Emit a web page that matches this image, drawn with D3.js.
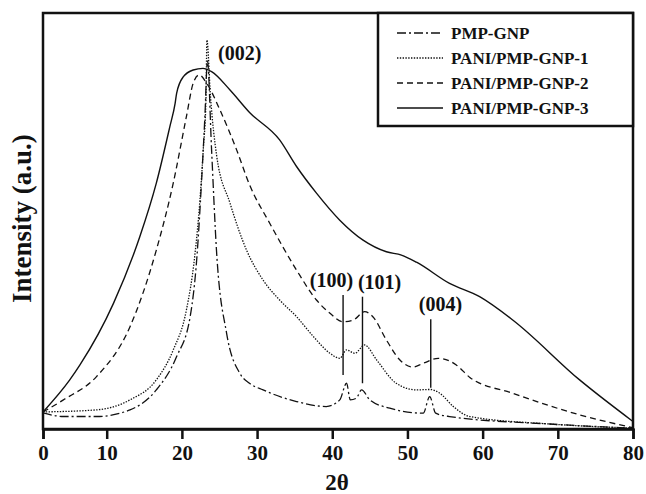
<!DOCTYPE html>
<html>
<head>
<meta charset="utf-8">
<script src="https://cdn.jsdelivr.net/npm/d3@7"></script>
<style>
  body { margin: 0; background: #fff; }
  svg text { font-family: "Liberation Serif", "Times New Roman", serif; font-weight: bold; fill: #111; }
</style>
</head>
<body>
<div id="chart"></div>
<script>
const W = 646, H = 494;
const PLOT = {left: 43, right: 633, top: 13, bottom: 429};

// tick labels on the 2θ axis
const thetaTicks = [0, 10, 20, 30, 40, 50, 60, 70, 80];

// series as [2θ, intensity (a.u., 0-100)]
const seriesNames = ['PMP-GNP', 'PANI/PMP-GNP-1', 'PANI/PMP-GNP-2', 'PANI/PMP-GNP-3'];

const pmpGnp = [
  [0, 3.9], [3.2, 3.0], [8.4, 3.0], [13.1, 4.6], [16.6, 9.4], [19.3, 17.4], [21.1, 27.0],
  [22.0, 41.4], [22.6, 59.0], [23.06, 75.1], [23.4, 88.5], [23.95, 67.1], [24.6, 43.0],
  [25.95, 23.0], [27.7, 13.4], [29.0, 11.0], [30.8, 9.4], [35.25, 6.6], [39.2, 5.4],
  [41.0, 7.0], [41.9, 11.0], [42.4, 7.0], [43.2, 7.4], [43.9, 9.4], [45.0, 7.0],
  [47.65, 5.0], [52.1, 3.8], [52.96, 7.8], [53.76, 3.8], [55.6, 3.0], [68.9, 1.2], [80, 0.2]
];

const paniGnp1 = [
  [0, 4.1], [8.4, 4.6], [13.1, 7.0], [16.6, 11.8], [18.85, 19.0], [20.6, 28.6], [21.7, 41.4],
  [22.4, 55.0], [22.84, 67.1], [23.2, 79.1], [23.33, 93.5], [23.8, 80.0], [24.6, 66.0],
  [26.4, 54.3], [28.6, 43.0], [30.8, 35.8], [33.0, 31.0], [35.25, 27.0], [37.5, 22.2],
  [39.7, 18.2], [41.0, 17.0], [41.9, 19.0], [43.0, 18.2], [44.3, 20.2], [45.9, 16.6],
  [48.5, 11.0], [51.2, 9.4], [53.0, 9.5], [54.3, 8.6], [56.1, 5.4], [58.3, 3.0],
  [68.9, 1.2], [80, 0.2]
];

const paniGnp2 = [
  [0, 4.1], [3.2, 7.0], [8.4, 12.6], [13.1, 24.6], [16.6, 43.0], [18.85, 59.1], [20.6, 75.1],
  [21.5, 83.1], [22.3, 85.1], [23.3, 83.1], [25.06, 76.7], [27.28, 67.1], [29.0, 58.7],
  [31.7, 49.4], [35.25, 38.2], [37.9, 31.0], [39.7, 27.8], [41.4, 25.8], [42.8, 26.2],
  [44.3, 28.2], [45.4, 27.0], [47.2, 21.4], [49.0, 16.6], [50.7, 14.9], [52.1, 15.8],
  [54.1, 17.0], [56.5, 15.4], [58.3, 12.4], [64.0, 8.6], [72.9, 3.4], [80, 0.3]
];

const paniGnp3 = [
  [0, 4.1], [4.2, 11.8], [5.8, 15.4], [10.9, 30.2], [14.4, 46.2], [16.6, 59.1], [18.4, 72.7],
  [19.1, 78.3], [19.3, 80.7], [20.2, 84.7], [21.5, 86.3], [22.8, 86.7], [23.95, 85.9],
  [26.4, 81.5], [29.0, 76.1], [33.0, 69.5], [35.25, 63.1], [37.9, 56.7], [41.0, 50.2],
  [44.1, 45.4], [47.2, 42.6], [49.2, 41.8], [51.2, 40.1], [55.6, 35.0], [59.6, 31.8],
  [64.0, 26.2], [72.9, 11.8], [80, 1.8]
];

// reflection markers: label, 2θ, top and bottom of the marker line
const peakLabels = ['(100)', '(101)', '(004)'];
const peakTheta = [41.44, 44.02, 53.1];
const peakTop = [32.2, 31.8, 26.4];
const peakBottom = [13.0, 11.0, 9.9];
const labelTheta = [39.9, 46.3, 54.4];

const allSeries = [pmpGnp, paniGnp1, paniGnp2, paniGnp3];
const dashes = ['9,3,2,3', '1.4,1.4', '6,4', null];

const x = d3.scaleLinear()
  .domain([0, 10, 80])
  .range([PLOT.left, 106.7, PLOT.right]);
const y = d3.scaleLinear()
  .domain([0, 100])
  .range([PLOT.bottom, PLOT.top]);

const svg = d3.select('#chart').append('svg')
  .attr('width', W)
  .attr('height', H);

svg.append('clipPath').attr('id', 'plotClip')
  .append('rect')
    .attr('x', PLOT.left).attr('y', PLOT.top)
    .attr('width', PLOT.right - PLOT.left).attr('height', PLOT.bottom - PLOT.top);

const line = d3.line()
  .x(d => x(d[0]))
  .y(d => y(d[1]))
  .curve(d3.curveMonotoneX);

// curves
svg.append('g')
  .attr('clip-path', 'url(#plotClip)')
  .selectAll('path')
  .data(allSeries)
  .join('path')
    .attr('d', line)
    .attr('fill', 'none')
    .attr('stroke', '#111')
    .attr('stroke-width', (d, i) => i === 3 ? 1.4 : 1.3)
    .attr('stroke-dasharray', (d, i) => dashes[i]);

// reflection marker lines and labels
svg.append('g').selectAll('line')
  .data(peakTheta)
  .join('line')
    .attr('x1', d => x(d)).attr('x2', d => x(d))
    .attr('y1', (d, i) => y(peakTop[i]))
    .attr('y2', (d, i) => y(peakBottom[i]))
    .attr('stroke', '#111')
    .attr('stroke-width', 1.4);

svg.append('g').selectAll('text')
  .data(peakLabels)
  .join('text')
    .attr('x', (d, i) => x(labelTheta[i]))
    .attr('y', (d, i) => y(peakTop[i]) - 8)
    .attr('text-anchor', 'middle')
    .style('font-size', '20px')
    .text(d => d);

svg.append('text')
  .attr('x', x(27.7))
  .attr('y', 60)
  .attr('text-anchor', 'middle')
  .style('font-size', '20px')
  .text('(002)');

// frame
svg.append('rect')
  .attr('x', PLOT.left).attr('y', PLOT.top)
  .attr('width', PLOT.right - PLOT.left).attr('height', PLOT.bottom - PLOT.top)
  .attr('fill', 'none')
  .attr('stroke', '#111')
  .attr('stroke-width', 2.5);

// x axis
const xAxis = d3.axisBottom(x)
  .tickValues(thetaTicks)
  .tickSize(10)
  .tickPadding(6)
  .tickFormat(d3.format('d'));

const axisG = svg.append('g')
  .attr('transform', `translate(0, ${PLOT.bottom})`)
  .call(xAxis);
axisG.select('.domain').attr('stroke', '#111').attr('stroke-width', 2.5);
axisG.selectAll('.tick line').attr('stroke', '#111').attr('stroke-width', 2.5);
axisG.selectAll('.tick text')
  .style('font-family', '"Liberation Serif", serif')
  .style('font-weight', 'bold')
  .style('font-size', '21px')
  .attr('fill', '#111');

// axis titles
svg.append('text')
  .attr('x', 337)
  .attr('y', 490)
  .attr('text-anchor', 'middle')
  .style('font-size', '23px')
  .text('2θ');

svg.append('text')
  .attr('transform', 'translate(31, 303) rotate(-90)')
  .attr('text-anchor', 'start')
  .style('font-size', '27px')
  .text('Intensity (a.u.)');

// legend
const LEG = {left: 378, top: PLOT.top, right: PLOT.right, bottom: 126};
svg.append('rect')
  .attr('x', LEG.left).attr('y', LEG.top)
  .attr('width', LEG.right - LEG.left).attr('height', LEG.bottom - LEG.top)
  .attr('fill', '#fff')
  .attr('stroke', '#111')
  .attr('stroke-width', 2.5);

const legendRow = d3.scaleLinear().domain([0, 3]).range([33, 108]);
const legend = svg.append('g').selectAll('g')
  .data(seriesNames)
  .join('g')
    .attr('transform', (d, i) => `translate(0, ${legendRow(i)})`);

legend.append('line')
  .attr('x1', 397).attr('x2', 443)
  .attr('stroke', '#111')
  .attr('stroke-width', 1.3)
  .attr('stroke-dasharray', (d, i) => dashes[i]);

legend.append('text')
  .attr('x', 451)
  .attr('y', 6)
  .style('font-size', '17px')
  .text(d => d);
</script>
</body>
</html>
